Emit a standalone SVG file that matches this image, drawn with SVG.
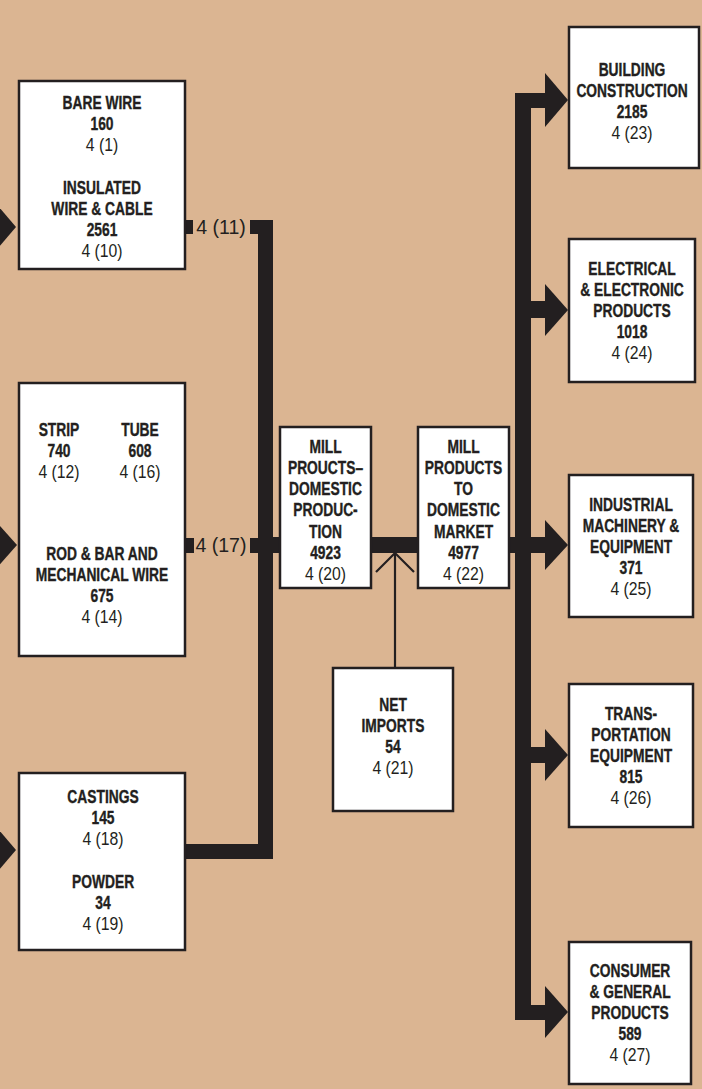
<svg xmlns="http://www.w3.org/2000/svg" width="702" height="1089" viewBox="0 0 702 1089">
<style>
.bg{fill:#dbb592}
.box{fill:#ffffff;stroke:#231f20;stroke-width:2.5}
.bar{fill:#231f20}
.b{font-family:"Liberation Sans",Arial,sans-serif;font-weight:bold;font-size:17.5px;fill:#231f20;stroke:#231f20;stroke-width:0.35;text-anchor:middle;transform-box:fill-box;transform-origin:center;transform:scaleX(0.79)}
.r{font-family:"Liberation Sans",Arial,sans-serif;font-size:17.5px;fill:#231f20;text-anchor:middle;transform-box:fill-box;transform-origin:center;transform:scaleX(0.9)}
.lbl{font-family:"Liberation Sans",Arial,sans-serif;font-size:19.5px;fill:#231f20;text-anchor:middle}
.thin{fill:none;stroke:#231f20;stroke-width:2.2}
</style>
<rect class="bg" x="0" y="0" width="702" height="1089"/>
<g id="connectors">
<rect class="bar" x="258" y="220" width="15" height="639"/>
<rect class="bar" x="250" y="220" width="23" height="14"/>
<rect class="bar" x="185" y="220" width="8" height="14"/>
<rect class="bar" x="185" y="538" width="9" height="15"/>
<rect class="bar" x="250" y="538" width="8" height="15"/>
<rect class="bar" x="185" y="844" width="88" height="15"/>
<rect class="bar" x="258" y="537" width="287" height="16"/>
<rect class="bar" x="515" y="93" width="16" height="927"/>
<rect class="bar" x="515" y="93" width="30" height="15"/>
<rect class="bar" x="515" y="1005" width="30" height="15"/>
<rect class="bar" x="531" y="301" width="14" height="17"/>
<rect class="bar" x="531" y="747" width="14" height="16"/>
<polygon class="bar" points="545,73 568,100 545,127"/>
<polygon class="bar" points="545,284 568,310 545,336"/>
<polygon class="bar" points="545,520 568,545 545,570"/>
<polygon class="bar" points="545,729 568,755 545,781"/>
<polygon class="bar" points="545,986 568,1012 545,1038"/>
<polygon class="bar" points="-7,200 16,227 -7,254"/>
<polygon class="bar" points="-7,518 17,545 -7,572"/>
<polygon class="bar" points="-7,823 16,850 -7,877"/>
<line class="thin" x1="395" y1="554" x2="395" y2="668"/>
<polyline class="thin" points="376,572 395,553 414,572"/>
<text class="lbl" x="221" y="234">4 (11)</text>
<text class="lbl" x="221" y="552">4 (17)</text>
</g>
<g id="bare-wire">
<rect class="box" x="19" y="81" width="166" height="188"/>
<text class="b" x="102" y="109">BARE WIRE</text>
<text class="b" x="102" y="130">160</text>
<text class="r" x="102" y="151">4 (1)</text>
<text class="b" x="102" y="194">INSULATED</text>
<text class="b" x="102" y="215">WIRE &amp; CABLE</text>
<text class="b" x="102" y="236">2561</text>
<text class="r" x="102" y="257">4 (10)</text>
</g>
<g id="strip-tube-rod">
<rect class="box" x="19" y="383" width="166" height="273"/>
<text class="b" x="59" y="436">STRIP</text>
<text class="b" x="59" y="457">740</text>
<text class="r" x="59" y="478">4 (12)</text>
<text class="b" x="140" y="436">TUBE</text>
<text class="b" x="140" y="457">608</text>
<text class="r" x="140" y="478">4 (16)</text>
<text class="b" x="102" y="560">ROD &amp; BAR AND</text>
<text class="b" x="102" y="581">MECHANICAL WIRE</text>
<text class="b" x="102" y="602">675</text>
<text class="r" x="102" y="623">4 (14)</text>
</g>
<g id="castings-powder">
<rect class="box" x="19" y="773" width="166" height="177"/>
<text class="b" x="103" y="803">CASTINGS</text>
<text class="b" x="103" y="824">145</text>
<text class="r" x="103" y="845">4 (18)</text>
<text class="b" x="103" y="888">POWDER</text>
<text class="b" x="103" y="909">34</text>
<text class="r" x="103" y="930">4 (19)</text>
</g>
<g id="mill-domestic-production">
<rect class="box" x="280" y="427" width="91" height="161"/>
<text class="b" x="325.5" y="453">MILL</text>
<text class="b" x="325.5" y="474">PROUCTS–</text>
<text class="b" x="325.5" y="495">DOMESTIC</text>
<text class="b" x="325.5" y="516">PRODUC-</text>
<text class="b" x="325.5" y="538">TION</text>
<text class="b" x="325.5" y="559">4923</text>
<text class="r" x="325.5" y="580">4 (20)</text>
</g>
<g id="mill-domestic-market">
<rect class="box" x="418" y="427" width="91" height="161"/>
<text class="b" x="463.5" y="453">MILL</text>
<text class="b" x="463.5" y="474">PRODUCTS</text>
<text class="b" x="463.5" y="495">TO</text>
<text class="b" x="463.5" y="516">DOMESTIC</text>
<text class="b" x="463.5" y="538">MARKET</text>
<text class="b" x="463.5" y="559">4977</text>
<text class="r" x="463.5" y="580">4 (22)</text>
</g>
<g id="net-imports">
<rect class="box" x="333" y="668" width="120" height="143"/>
<text class="b" x="393" y="711">NET</text>
<text class="b" x="393" y="732">IMPORTS</text>
<text class="b" x="393" y="753">54</text>
<text class="r" x="393" y="774">4 (21)</text>
</g>
<g id="building-construction">
<rect class="box" x="569" y="27" width="130" height="141"/>
<text class="b" x="632" y="76">BUILDING</text>
<text class="b" x="632" y="97">CONSTRUCTION</text>
<text class="b" x="632" y="118">2185</text>
<text class="r" x="632" y="139">4 (23)</text>
</g>
<g id="electrical">
<rect class="box" x="569" y="239" width="126" height="143"/>
<text class="b" x="632" y="275">ELECTRICAL</text>
<text class="b" x="632" y="296">&amp; ELECTRONIC</text>
<text class="b" x="632" y="317">PRODUCTS</text>
<text class="b" x="632" y="338">1018</text>
<text class="r" x="632" y="359">4 (24)</text>
</g>
<g id="industrial">
<rect class="box" x="569" y="475" width="124" height="142"/>
<text class="b" x="631" y="511">INDUSTRIAL</text>
<text class="b" x="631" y="532">MACHINERY &amp;</text>
<text class="b" x="631" y="553">EQUIPMENT</text>
<text class="b" x="631" y="574">371</text>
<text class="r" x="631" y="595">4 (25)</text>
</g>
<g id="transportation">
<rect class="box" x="569" y="684" width="124" height="143"/>
<text class="b" x="631" y="720">TRANS-</text>
<text class="b" x="631" y="741">PORTATION</text>
<text class="b" x="631" y="762">EQUIPMENT</text>
<text class="b" x="631" y="783">815</text>
<text class="r" x="631" y="804">4 (26)</text>
</g>
<g id="consumer">
<rect class="box" x="569" y="942" width="122" height="142"/>
<text class="b" x="630" y="977">CONSUMER</text>
<text class="b" x="630" y="998">&amp; GENERAL</text>
<text class="b" x="630" y="1019">PRODUCTS</text>
<text class="b" x="630" y="1040">589</text>
<text class="r" x="630" y="1061">4 (27)</text>
</g>
</svg>
